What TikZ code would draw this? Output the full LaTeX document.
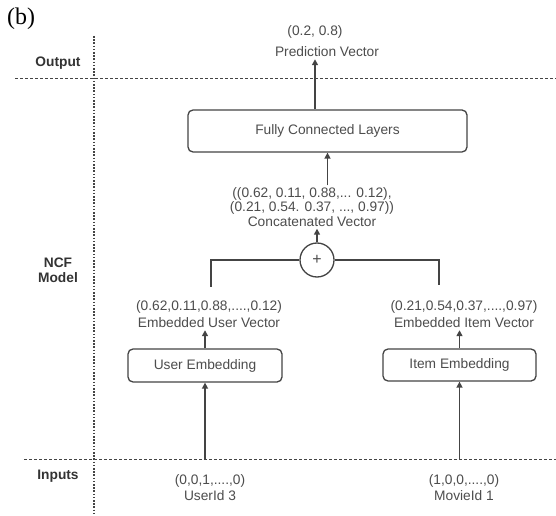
\documentclass[tikz,border=0pt]{standalone}
\usepackage{fontspec}
\setmainfont{Liberation Sans}
\newfontfamily\serifb{Liberation Serif}
\usetikzlibrary{arrows.meta}
\definecolor{ln}{HTML}{444444}
\definecolor{tx}{HTML}{4D4D4D}
\definecolor{lb}{HTML}{333333}
\tikzset{
 lbl/.style={font=\fontsize{13.8}{15}\selectfont\bfseries, text=lb, align=center, inner sep=0},
 txt/.style={font=\fontsize{13.8}{17}\selectfont, text=tx, align=center, inner sep=2bp},
 box/.style={draw=ln, line width=1.3bp, rounded corners=5bp, font=\fontsize{13.8}{16}\selectfont, text=tx, inner sep=0},
 arr/.style={draw=ln, line width=1.5bp, -{Triangle[length=6bp,width=6bp]}},
 conn/.style={draw=ln, line width=1.5bp},
 dashline/.style={draw=ln, line width=1bp, dash pattern=on 3bp off 2bp},
 dotline/.style={draw=ln, line width=1.6bp, dash pattern=on 1.6bp off 1.6bp},
}
\begin{document}
\begin{tikzpicture}[x=1bp,y=-1bp]
\useasboundingbox (0,0) rectangle (556,516);
\fill[white] (0,0) rectangle (556,516);
\node[anchor=west, font=\serifb\fontsize{24}{24}\selectfont, inner sep=0] (b) at (7,19) {(b)};
\coordinate (vt) at (94,36); \coordinate (vb) at (94,516);
\coordinate (h1a) at (15,79); \coordinate (h1b) at (556,79);
\coordinate (h2a) at (24,459); \coordinate (h2b) at (556,459);
\draw[dotline] (vt) -- (vb);
\draw[dashline] (h1a) -- (h1b);
\draw[dashline] (h2a) -- (h2b);
\node[lbl] (out) at (58,63) {Output};
\node[lbl] (ncf) at (58,270) {NCF\\Model};
\node[lbl] (inp) at (58,476) {Inputs};

\node[txt] (pval) at (315,32) {(0.2, 0.8)};
\node[txt] (pname) at (327,52) {Prediction Vector};
\node[box, minimum width=279bp, minimum height=42bp] (fc) at (327.5,131) {Fully Connected Layers};
\node[txt, font=\fontsize{13.8}{14.5}\selectfont] (cv) at (312,207) {((0.62, 0.11, 0.88,... 0.12),\\(0.21, 0.54. 0.37, ..., 0.97))\\Concatenated Vector};
\node[draw=ln, line width=1.3bp, circle, minimum size=34bp, inner sep=0, font=\fontsize{16}{16}\selectfont, text=tx] (plus) at (317,260) {+};
\node[txt] (uv) at (209,314.5) {(0.62,0.11,0.88,....,0.12)\\Embedded User Vector};
\node[txt] (iv) at (464,314.5) {(0.21,0.54,0.37,....,0.97)\\Embedded Item Vector};
\node[box, minimum width=154bp, minimum height=33bp] (ue) at (205,365.5) {User Embedding};
\node[box, minimum width=153bp, minimum height=32bp] (ie) at (459.5,365) {Item Embedding};
\node[txt, font=\fontsize{13.8}{16}\selectfont] (ui) at (210,488) {(0,0,1,....,0)\\UserId 3};
\node[txt, font=\fontsize{13.8}{16}\selectfont] (mi) at (464,488) {(1,0,0,....,0)\\MovieId 1};

\coordinate (lv) at (211,287);
\coordinate (rv) at (439,285);

\draw[arr] (fc.north -| pval) -- (pname.south -| pval);
\draw[arr] (cv.north -| fc.south) -- (fc.south);
\draw[arr] (plus.north) -- (cv.south -| plus.north);
\draw[conn] (plus.west) -| (lv);
\draw[conn] (plus.east) -| (rv);
\draw[arr] (ue.north) -- (ue.north |- uv.south);
\draw[arr] (ie.north) -- (ie.north |- iv.south);
\draw[arr] (ue.south |- h2a) -- (ue.south);
\draw[arr] (ie.south |- h2a) -- (ie.south);
\end{tikzpicture}
\end{document}
